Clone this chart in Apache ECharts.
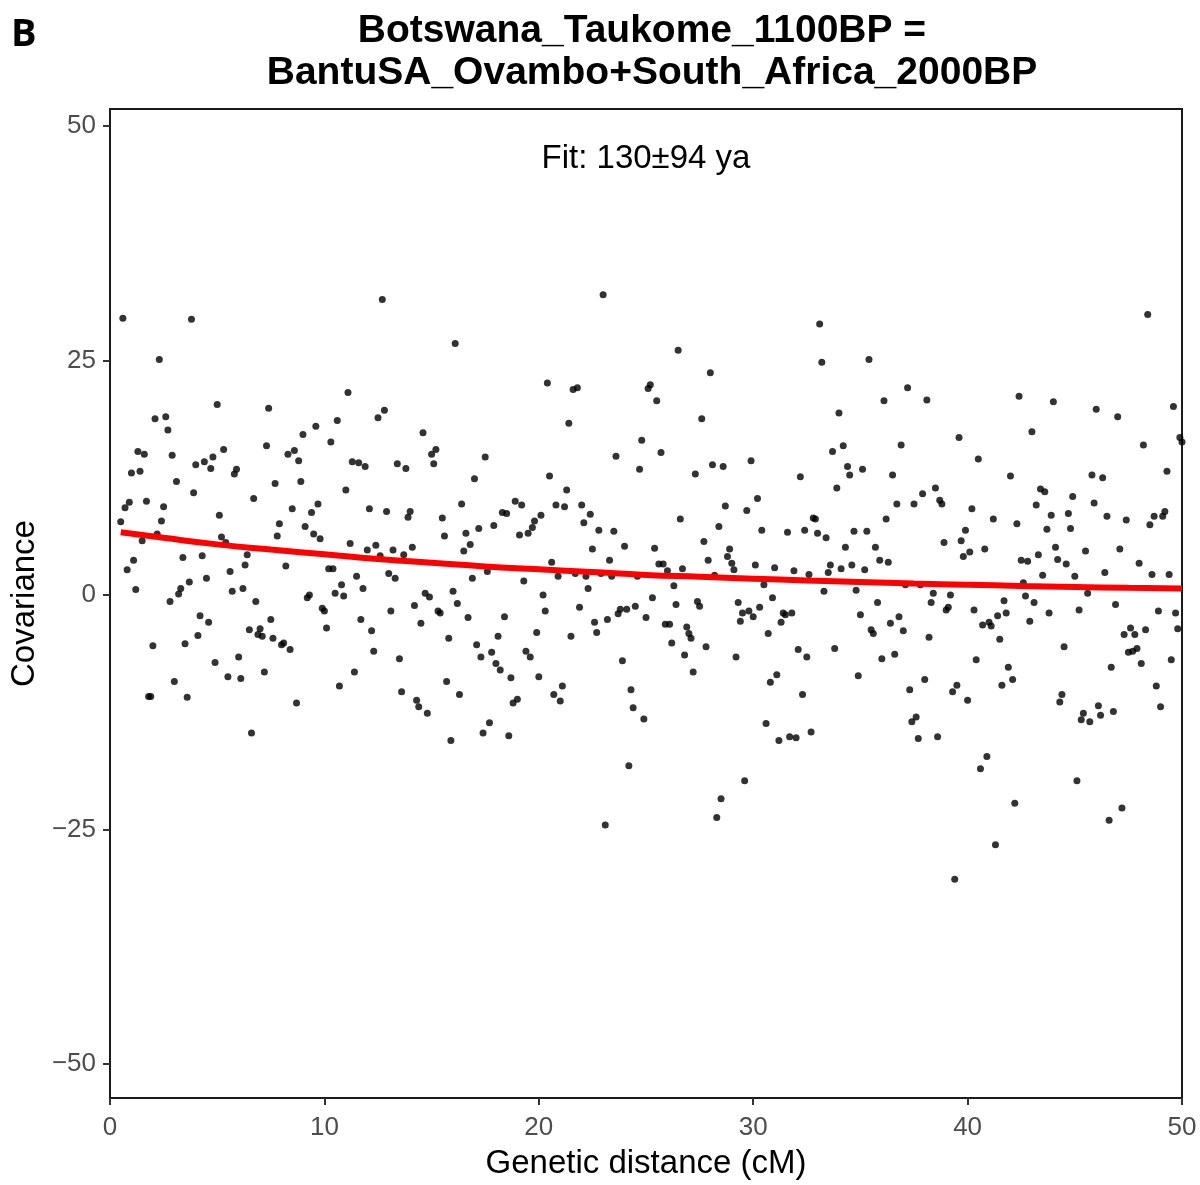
<!DOCTYPE html>
<html>
<head>
<meta charset="utf-8">
<script src="https://cdn.jsdelivr.net/npm/echarts@6/dist/echarts.min.js"></script>
<style>
html,body{margin:0;padding:0;background:#fff;}
#chart{width:1200px;height:1185px;}
</style>
</head>
<body>
<div id="chart"></div>
<script>
// Covariance vs genetic distance (cM), pairs [distance, covariance]
const cov_00_10 = [
[0.5,7.8],[0.6,29.5],[0.7,9.3],[0.8,2.7],[0.9,9.9],[1.0,13.0],[1.1,3.7],[1.2,0.6],[1.3,15.3],[1.4,13.2],
[1.5,5.8],[1.6,15.0],[1.7,10.0],[1.8,-10.8],[1.9,-10.8],[2.0,-5.4],[2.1,18.8],[2.2,6.5],[2.3,25.1],[2.4,7.9],
[2.5,9.4],[2.6,19.0],[2.7,17.6],[2.8,-0.7],[2.9,14.9],[3.0,-9.2],[3.1,12.1],[3.2,0.1],[3.3,0.7],[3.4,4.0],
[3.5,-5.2],[3.6,-10.9],[3.7,1.4],[3.8,29.4],[3.9,10.9],[4.0,13.9],[4.1,-4.3],[4.2,-2.2],[4.3,4.2],[4.4,14.2],
[4.5,1.8],[4.6,-2.9],[4.7,13.5],[4.8,14.7],[4.9,-7.2],[5.0,20.3],[5.1,8.5],[5.2,6.2],[5.3,15.5],[5.4,5.6],
[5.5,-8.7],[5.6,2.5],[5.7,0.4],[5.8,12.9],[5.9,13.4],[6.0,-6.6],[6.1,-8.9],[6.2,0.7],[6.3,3.2],[6.4,4.3],
[6.5,-3.7],[6.6,-14.7],[6.7,10.3],[6.8,-0.7],[6.9,-4.2],[7.0,-3.6],[7.1,-4.4],[7.2,-8.2],[7.3,15.9],[7.4,19.9],
[7.5,-2.6],[7.6,-4.6],[7.7,11.9],[7.8,6.3],[7.9,7.6],[8.0,-5.3],[8.1,-5.1],[8.2,3.1],[8.3,15.0],[8.4,-5.8],
[8.5,9.2],[8.6,15.4],[8.7,-11.5],[8.8,14.3],[8.9,12.1],[9.0,17.1],[9.1,7.3],[9.2,-0.3],[9.3,0.0],[9.4,8.8],
[9.5,6.5],[9.6,18.0],[9.7,9.7],[9.8,6.0],[9.9,-1.4]
];
const cov_10_20 = [
[10.0,-1.7],[10.1,-3.5],[10.2,2.8],[10.3,16.3],[10.4,2.8],[10.5,0.2],[10.6,18.6],[10.7,-9.7],[10.8,1.1],[10.9,-0.1],
[11.0,11.2],[11.1,21.6],[11.2,5.5],[11.3,14.2],[11.4,-8.2],[11.5,2.0],[11.6,14.1],[11.7,-2.6],[11.8,0.7],[11.9,13.7],
[12.0,4.8],[12.1,9.2],[12.2,-3.8],[12.3,-6.0],[12.4,5.3],[12.5,18.9],[12.6,4.2],[12.7,31.5],[12.8,19.7],[12.9,8.9],
[13.0,2.3],[13.1,-1.7],[13.2,4.8],[13.3,1.8],[13.4,14.0],[13.5,-6.8],[13.6,-10.3],[13.7,4.3],[13.8,13.5],[13.9,8.3],
[14.0,8.9],[14.1,5.1],[14.2,-1.1],[14.3,-11.2],[14.4,-11.9],[14.5,-3.0],[14.6,17.3],[14.7,0.2],[14.8,-12.6],[14.9,-0.2],
[15.0,15.0],[15.1,14.0],[15.2,15.5],[15.3,-1.7],[15.4,-1.9],[15.5,8.2],[15.6,6.3],[15.7,-9.2],[15.8,-4.6],[15.9,-15.5],
[16.0,0.4],[16.1,26.8],[16.2,-0.9],[16.3,-10.6],[16.4,9.7],[16.5,4.7],[16.6,6.6],[16.7,-2.4],[16.8,5.4],[16.9,1.8],
[17.0,12.4],[17.1,-5.3],[17.2,7.1],[17.3,-6.6],[17.4,-14.7],[17.5,14.7],[17.6,2.5],[17.7,-13.6],[17.8,-6.1],[17.9,7.4],
[18.0,-7.3],[18.1,-4.4],[18.2,-8.0],[18.3,8.8],[18.4,-2.3],[18.5,8.7],[18.6,-15.0],[18.7,-8.8],[18.8,-11.5],[18.9,10.0],
[19.0,-11.1],[19.1,6.4],[19.2,9.6],[19.3,1.5],[19.4,-6.0],[19.5,6.6],[19.6,-6.6],[19.7,7.2],[19.8,7.9],[19.9,-4.0]
];
const cov_20_30 = [
[20.0,-8.7],[20.1,8.5],[20.2,0.0],[20.3,-1.7],[20.4,22.6],[20.5,12.7],[20.6,3.5],[20.7,-10.6],[20.8,9.6],[20.9,2.0],
[21.0,-11.3],[21.1,-9.7],[21.2,9.4],[21.3,11.2],[21.4,18.3],[21.5,-4.4],[21.6,21.9],[21.7,2.3],[21.8,22.1],[21.9,-1.3],
[22.0,9.6],[22.1,7.7],[22.2,2.0],[22.3,0.7],[22.4,8.6],[22.5,4.9],[22.6,-2.9],[22.7,-4.0],[22.8,6.9],[22.9,2.3],
[23.0,32.0],[23.1,-24.5],[23.2,-2.6],[23.3,3.7],[23.4,2.0],[23.5,6.8],[23.6,14.8],[23.7,-2.0],[23.8,-1.5],[23.9,-7.0],
[24.0,5.2],[24.1,-1.5],[24.2,-18.2],[24.3,-10.1],[24.4,-12.0],[24.5,-1.2],[24.6,2.0],[24.7,13.4],[24.8,16.5],[24.9,-13.2],
[25.0,-2.4],[25.1,22.0],[25.2,22.4],[25.3,-0.3],[25.4,5.0],[25.5,20.7],[25.6,3.3],[25.7,15.2],[25.8,3.3],[25.9,-3.1],
[26.0,2.6],[26.1,-3.1],[26.2,-5.1],[26.3,1.0],[26.4,-1.0],[26.5,26.1],[26.6,8.1],[26.7,2.8],[26.8,-6.4],[26.9,-3.4],
[27.0,-4.1],[27.1,-4.6],[27.2,-8.2],[27.3,12.9],[27.4,-0.7],[27.5,-1.2],[27.6,18.8],[27.7,5.7],[27.8,-5.5],[27.9,3.7],
[28.0,23.7],[28.1,13.9],[28.2,2.1],[28.3,-23.7],[28.4,7.3],[28.5,-21.7],[28.6,13.7],[28.7,9.5],[28.8,4.1],[28.9,4.9],
[29.0,3.4],[29.1,2.7],[29.2,-6.6],[29.3,-0.8],[29.4,-2.8],[29.5,-1.9],[29.6,-19.8],[29.7,9.0],[29.8,-1.7],[29.9,14.3]
];
const cov_30_40 = [
[30.0,-2.3],[30.1,3.2],[30.2,10.3],[30.3,-1.3],[30.4,6.9],[30.5,1.1],[30.6,-13.7],[30.7,-4.1],[30.8,-9.3],[30.9,-0.3],
[31.0,2.9],[31.1,-8.5],[31.2,-15.5],[31.3,-2.9],[31.4,-1.9],[31.5,-2.1],[31.6,6.7],[31.7,-15.1],[31.8,-1.9],[31.9,2.6],
[32.0,-15.2],[32.1,-5.8],[32.2,12.6],[32.3,-10.6],[32.4,6.9],[32.5,-6.6],[32.6,2.2],[32.7,-14.6],[32.8,8.2],[32.9,8.1],
[33.0,6.6],[33.1,28.9],[33.2,24.8],[33.3,0.4],[33.4,6.1],[33.5,2.4],[33.6,3.2],[33.7,15.3],[33.8,-5.7],[33.9,11.4],
[34.0,19.4],[34.1,2.8],[34.2,15.9],[34.3,5.1],[34.4,13.7],[34.5,12.8],[34.6,3.2],[34.7,6.8],[34.8,0.5],[34.9,-8.6],
[35.0,-2.1],[35.1,13.4],[35.2,2.7],[35.3,6.8],[35.4,25.1],[35.5,-3.7],[35.6,-4.1],[35.7,5.1],[35.8,-0.8],[35.9,3.7],
[36.0,-6.8],[36.1,20.7],[36.2,8.1],[36.3,3.5],[36.4,-3.0],[36.5,12.8],[36.6,-6.3],[36.7,9.7],[36.8,-2.3],[36.9,16.0],
[37.0,-3.8],[37.1,1.1],[37.2,22.1],[37.3,-10.1],[37.4,-13.5],[37.5,9.7],[37.6,-13.0],[37.7,-15.3],[37.8,1.1],[37.9,10.8],
[38.0,-9.0],[38.1,20.8],[38.2,-4.5],[38.3,-0.8],[38.4,0.2],[38.5,11.4],[38.6,-15.1],[38.7,10.1],[38.8,9.7],[38.9,5.6],
[39.0,-1.6],[39.1,-1.3],[39.2,0.0],[39.3,-10.3],[39.4,-30.3],[39.5,-9.6],[39.6,16.8],[39.7,5.8],[39.8,4.1],[39.9,6.9]
];
const cov_40_50 = [
[40.0,-11.2],[40.1,4.6],[40.2,9.2],[40.3,-1.6],[40.4,-6.9],[40.5,14.5],[40.6,-18.5],[40.7,-3.2],[40.8,4.9],[40.9,-17.2],
[41.0,-2.9],[41.1,-3.3],[41.2,8.1],[41.3,-26.6],[41.4,-2.2],[41.5,-4.7],[41.6,-9.6],[41.7,-0.6],[41.8,-1.9],[41.9,-7.7],
[42.0,12.7],[42.1,-9.0],[42.2,-22.2],[42.3,7.6],[42.4,21.2],[42.5,3.7],[42.6,1.3],[42.7,-0.1],[42.8,3.6],[42.9,-2.8],
[43.0,17.4],[43.1,-0.8],[43.2,9.6],[43.3,4.3],[43.4,11.3],[43.5,2.1],[43.6,11.0],[43.7,7.0],[43.8,-1.9],[43.9,8.5],
[44.0,20.6],[44.1,5.1],[44.2,3.8],[44.3,-11.4],[44.4,-10.6],[44.5,-5.5],[44.6,3.3],[44.7,8.7],[44.8,7.1],[44.9,10.5],
[45.0,2.0],[45.1,-19.8],[45.2,-1.6],[45.3,-13.3],[45.4,-12.6],[45.5,4.7],[45.6,0.2],[45.7,-13.5],[45.8,12.8],[45.9,9.8],
[46.0,19.8],[46.1,-11.8],[46.2,-12.8],[46.3,12.5],[46.4,2.4],[46.5,8.4],[46.6,-24.0],[46.7,-7.7],[46.8,-12.4],[46.9,-1.0],
[47.0,19.0],[47.1,4.9],[47.2,-22.7],[47.3,-4.2],[47.4,8.0],[47.5,-6.1],[47.6,-3.5],[47.7,-6.0],[47.8,-4.2],[47.9,-5.7],
[48.0,3.4],[48.1,-7.3],[48.2,16.0],[48.3,-3.7],[48.4,29.9],[48.5,7.5],[48.6,2.2],[48.7,8.4],[48.8,-9.7],[48.9,-1.7],
[49.0,-11.9],[49.1,8.4],[49.2,8.9],[49.3,13.2],[49.4,2.2],[49.5,-6.9],[49.6,20.1],[49.7,-1.9],[49.8,-3.6],[49.9,16.8],
[50.0,16.3]
];

// Fitted curve
const fitDistance   = [0.5, 2.5, 5, 7.5, 10, 12.5, 15, 17.5, 20, 22.5, 25, 27.5, 30, 32.5, 35, 37.5, 40, 42.5, 45, 47.5, 50];
const fitCovariance = [6.7, 6.1, 5.4, 4.85, 4.35, 3.85, 3.45, 3.05, 2.75, 2.45, 2.15, 1.95, 1.75, 1.55, 1.4, 1.22, 1.1, 0.97, 0.87, 0.77, 0.69];

const yTicks = [-50, -25, 0, 25, 50];
const xTicks = [0, 10, 20, 30, 40, 50];

const titleLine1 = 'Botswana_Taukome_1100BP =';
const titleLine2 = 'BantuSA_Ovambo+South_Africa_2000BP';
const panelTag = 'B';
const fitLabel = 'Fit: 130\u00b194 ya';

const points = [].concat(cov_00_10, cov_10_20, cov_20_30, cov_30_40, cov_40_50);
const fitData = fitDistance.map((d, i) => [d, fitCovariance[i]]);

const FONT = '"Liberation Sans", Arial, sans-serif';
const chart = echarts.init(document.getElementById('chart'), null, {renderer: 'canvas'});

const option = {
  animation: false,
  backgroundColor: '#ffffff',
  grid: {
    left: 110, right: 18, top: 109, bottom: 79,
    show: true, borderColor: '#1a1a1a', borderWidth: 2, backgroundColor: 'transparent'
  },
  xAxis: {
    type: 'value', min: 0, max: 50, interval: 10,
    axisLine: {show: true, onZero: false, lineStyle: {color: '#1a1a1a', width: 2}},
    axisTick: {show: true, length: 7, lineStyle: {color: '#333333', width: 2}},
    axisLabel: {color: '#4d4d4d', fontSize: 26, fontFamily: FONT, margin: 17,
      customValues: xTicks},
    splitLine: {show: false},
    name: 'Genetic distance (cM)', nameLocation: 'middle', nameGap: 49,
    nameTextStyle: {fontSize: 33, color: '#000', fontFamily: FONT}
  },
  yAxis: {
    type: 'value', min: -53.6, max: 51.8,
    axisLine: {show: true, onZero: false, lineStyle: {color: '#1a1a1a', width: 2}},
    axisTick: {show: true, length: 7, lineStyle: {color: '#333333', width: 2}, customValues: yTicks},
    axisLabel: {color: '#4d4d4d', fontSize: 26, fontFamily: FONT, margin: 14, customValues: yTicks,
      formatter: v => (v < 0 ? '\u2212' + Math.abs(v) : String(v))},
    splitLine: {show: false},
    name: 'Covariance', nameLocation: 'middle', nameGap: 65, nameRotate: 90,
    nameTextStyle: {fontSize: 33, color: '#000', fontFamily: FONT}
  },
  series: [
    {
      type: 'scatter', data: points, symbol: 'circle', symbolSize: 7,
      itemStyle: {color: '#000000'}, z: 2, silent: true
    },
    {
      type: 'line', data: fitData, smooth: true, symbol: 'none',
      lineStyle: {color: '#ff0000', width: 6}, z: 3, silent: true
    }
  ],
  graphic: [
    {type: 'text', x: 11, y: 35, style: {text: panelTag, fontSize: 38, fontWeight: 'bold',
      fontFamily: '"Open Sans", sans-serif', fill: '#000', align: 'left', verticalAlign: 'middle'}},
    {type: 'text', x: 642, y: 31, style: {text: titleLine1, fontSize: 39, fontWeight: 'bold',
      fontFamily: FONT, fill: '#000', align: 'center', verticalAlign: 'middle'}},
    {type: 'text', x: 652, y: 73, style: {text: titleLine2, fontSize: 39, fontWeight: 'bold',
      fontFamily: FONT, fill: '#000', align: 'center', verticalAlign: 'middle'}},
    {type: 'text', x: 646, y: 159, style: {text: fitLabel, fontSize: 33,
      fontFamily: FONT, fill: '#000', align: 'center', verticalAlign: 'middle'}}
  ]
};
chart.setOption(option);
</script>
</body>
</html>
